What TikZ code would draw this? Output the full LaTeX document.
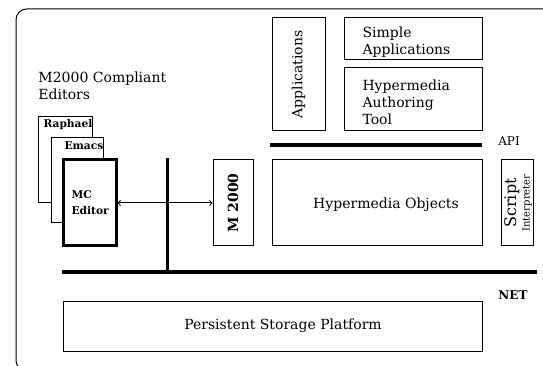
\documentclass[tikz,border=0pt]{standalone}
\usepackage{fontspec}
\setmainfont{DejaVu Serif}

\tikzset{every picture/.style={line width=0.75pt}}
\tikzset{
  box/.style={draw, fill=white, inner sep=0pt},
  bus/.style={line width=3pt},
  lbl/.style={inner sep=0pt, font=\fontsize{10.5}{12.7}\selectfont},
  small/.style={inner sep=0pt, font=\fontsize{8}{12}\selectfont\bfseries},
}

\begin{document}
\begin{tikzpicture}[x=0.75pt,y=0.75pt,yscale=-1,xscale=1]
	\useasboundingbox (0,0) rectangle (543,366);

	%Shape: Frame
	\draw [rounded corners=8] (560,9) -- (16,9) -- (16,371) -- (560,371) ;

	% Editors
	\node [lbl, anchor=north west, align=left] (editorstxt) at (38,71) {M2000 Compliant\\Editors};
	%Shape: Rectangle
	\node [box, minimum width=40.5pt, minimum height=64.5pt] (raphael) at (65,160) {};
	\node [small] (raphaeltxt) at (68,125) {Raphael};
	%Shape: Rectangle
	\node [box, minimum width=39pt, minimum height=63.75pt] (emacs) at (77,180.5) {};
	\node [small] (emacstxt) at (84,146) {Emacs};
	%Shape: Rectangle
	\node [box, line width=2.25pt, minimum width=39.75pt, minimum height=64.5pt] (mc) at (89.5,203) {};
	\node [small, anchor=west, align=left] (mctxt) at (71,203) {MC\\Editor};

	%Shape: Rectangle
	\node [box, minimum width=30pt, minimum height=64.5pt] (m2000) at (233,203) {};
	\node [lbl, rotate=90, font=\fontsize{10.5}{12.7}\selectfont\bfseries] (m2000txt) at (233,203) {M 2000};

	%Straight Lines
	\draw [<->] (mc.east) -- (m2000.west) ;

	% Applications
	\node [box, minimum width=39.75pt, minimum height=84.75pt] (apps) at (298.5,74.5) {};
	\node [lbl, rotate=90] (appstxt) at (298.5,74.5) {Applications};
	\node [box, minimum width=103.5pt, minimum height=31.5pt] (simple) at (413,39) {};
	\node [lbl, anchor=west, align=left] (simpletxt) at (362,42) {Simple\\Applications};
	\node [box, minimum width=103.5pt, minimum height=47.25pt] (hat) at (413,99.5) {};
	\node [lbl, anchor=west, align=left] (hattxt) at (362,102) {Hypermedia\\Authoring\\Tool};

	%Straight Lines (API)
	\coordinate (apil) at (270,145) ;
	\coordinate (apir) at (482,145) ;
	\draw [bus] (apil) -- (apir) ;
	\node [inner sep=0pt, font=\fontsize{9}{11}\selectfont] (apitxt) at (509,141) {API};

	% Hypermedia objects
	\node [box, minimum width=157.5pt, minimum height=64.5pt] (hypobj) at (377,203) {};
	\node [lbl] (hypobjtxt) at (386,205) {Hypermedia Objects};
	\node [box, minimum width=24pt, minimum height=64.5pt] (script) at (517,203) {};
	\node [inner sep=0pt, rotate=90, align=center] (scripttxt) at (518,203) {{\fontsize{12}{12}\selectfont Script}\\[-2pt]{\fontsize{7.5}{8}\selectfont Interpreter}};

	%Straight Lines (NET)
	\coordinate (netl) at (62,272) ;
	\coordinate (netr) at (537,272) ;
	\draw [bus] (netl) -- (netr) ;
	\coordinate (vtop) at (167,158) ;
	\draw [line width=2.25pt] (vtop) -- (vtop |- netl) ;
	\node [inner sep=0pt, font=\fontsize{9}{11}\selectfont\bfseries] (nettxt) at (513,295) {NET};

	%Shape: Rectangle
	\node [box, minimum width=314.25pt, minimum height=37.5pt] (pstore) at (272.5,327) {};
	\node [lbl] (pstoretxt) at (283,326) {Persistent Storage Platform};

\end{tikzpicture}
\end{document}
